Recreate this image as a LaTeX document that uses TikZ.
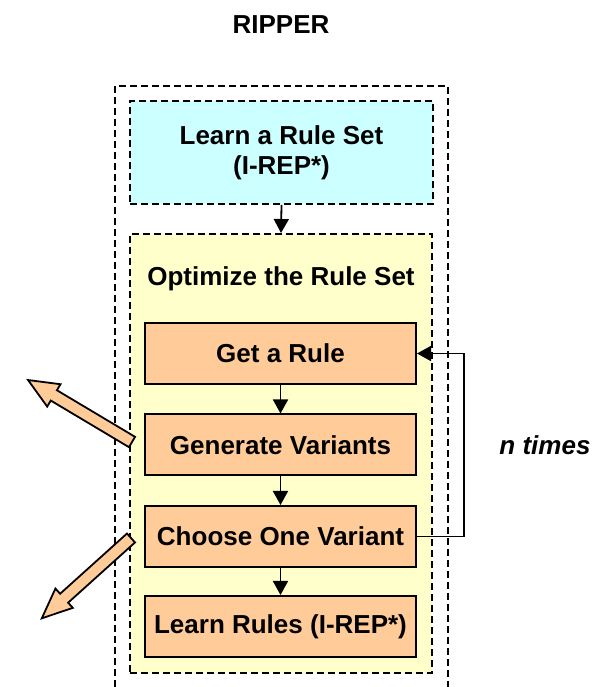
\documentclass[tikz,border=0pt]{standalone}
\usepackage{fontspec}
\setmainfont{Liberation Sans}
\usetikzlibrary{arrows.meta}
\definecolor{cyanfill}{HTML}{CCFFFF}
\definecolor{yellowfill}{HTML}{FFFFCC}
\definecolor{orangefill}{HTML}{FFCC99}
\begin{document}
\begin{tikzpicture}[x=1pt,y=1pt,
  lbl/.style={font=\fontsize{26}{30}\selectfont\bfseries},
  dashbox/.style={draw=black, line width=2pt, dash pattern=on 7pt off 4pt},
  stepbox/.style={draw=black, line width=2pt, fill=orangefill, minimum width=271pt, minimum height=61pt, inner sep=0pt, lbl},
  conn/.style={line width=1.8pt, -{Triangle[length=14pt,width=15pt]}},
  fatarrow/.style={draw=black, line width=1.8pt, fill=orangefill, line join=miter}
]
\useasboundingbox (0,0) rectangle (603,687);
\node[lbl] (title) at (281,662) {RIPPER};
\draw[dashbox] (115,0) -- (115,601) -- (448,601) -- (448,0);
\node[dashbox, fill=cyanfill, minimum width=303pt, minimum height=103pt, inner sep=0pt, align=center, lbl, font=\fontsize{26}{30}\selectfont\bfseries] (learn) at (281.5,534.5) {Learn a Rule Set\\(I-REP*)};
\node[dashbox, fill=yellowfill, minimum width=302pt, minimum height=439pt, inner sep=0pt] (opt) at (281,233.5) {};
\node[lbl] (optlabel) at (281,408) {Optimize the Rule Set};
\node[stepbox] (get) at (280.5,333.5) {Get a Rule};
\node[stepbox] (gen) at (280.5,242) {Generate Variants};
\node[stepbox] (choose) at (280.5,150.5) {Choose One Variant};
\node[stepbox] (rules) at (280.5,60.5) {Learn Rules (I-REP*)};
\draw[conn] (learn.south) -- (opt.north);
\draw[conn] (get.south) -- (gen.north);
\draw[conn] (gen.south) -- (choose.north);
\draw[conn] (choose.south) -- (rules.north);
\coordinate (loopcorner) at (464,150.5);
\draw[conn] (choose.east) -- (loopcorner) |- (get.east);
\node[font=\fontsize{26}{30}\selectfont\bfseries\itshape] (ntimes) at (545,242) {n times};
\begin{scope}[shift={(132,245)}, rotate=149.2]
  \draw[fatarrow] (0,-6) -- (91,-6) -- (91,-13) -- (121,0) -- (91,13) -- (91,6) -- (0,6) -- cycle;
\end{scope}
\begin{scope}[shift={(131,149)}, rotate=222]
  \draw[fatarrow] (0,-6) -- (90,-6) -- (90,-13) -- (120,0) -- (90,13) -- (90,6) -- (0,6) -- cycle;
\end{scope}
\end{tikzpicture}
\end{document}
